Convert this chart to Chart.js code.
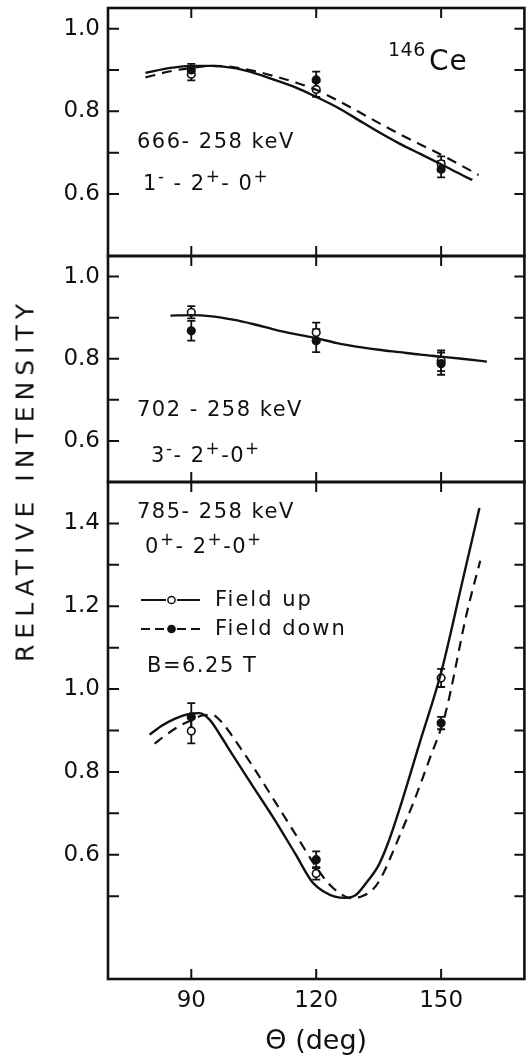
<!DOCTYPE html>
<html>
<head>
<meta charset="utf-8">
<script src="https://cdn.jsdelivr.net/npm/chart.js@4.4.1/dist/chart.umd.min.js"></script>
<style>
  body { margin: 0; background: #fff; }
  #wrap { position: relative; width: 530px; height: 1061px; overflow: hidden; background: #fff; }
  canvas { position: absolute; left: 0; }
  .txt { position: absolute; font-family: 'DejaVu Sans', sans-serif; color: #111; line-height: 1; white-space: nowrap; font-size: 21px; letter-spacing: 1.5px; }
  .up { position: relative; font-size: 0.8em; top: -0.45em; }
</style>
</head>
<body>
<div id="wrap">
  <canvas id="c1" width="530" height="262" style="top:0"></canvas>
  <canvas id="c2" width="530" height="238" style="top:250px"></canvas>
  <canvas id="c3" width="530" height="585" style="top:476px"></canvas>

  <div class="txt" style="left:25px; top:480px; font-size:25px; letter-spacing:6px; transform: translate(-50%,-50%) rotate(-90deg);">RELATIVE INTENSITY</div>

  <div class="txt" style="left:388px; top:40px; font-size:19px; letter-spacing:0.5px;">146</div>
  <div class="txt" style="left:429px; top:47px; font-size:28px; letter-spacing:1px;">Ce</div>

  <div class="txt" style="left:137px; top:131px;">666- 258 keV</div>
  <div class="txt" style="left:143px; top:173px;">1<span class="up">-</span> - 2<span class="up">+</span>- 0<span class="up">+</span></div>

  <div class="txt" style="left:137px; top:399px;">702 - 258 keV</div>
  <div class="txt" style="left:151px; top:445px;">3<span class="up">-</span>- 2<span class="up">+</span>-0<span class="up">+</span></div>

  <div class="txt" style="left:137px; top:501px;">785- 258 keV</div>
  <div class="txt" style="left:145px; top:536px;">0<span class="up">+</span>- 2<span class="up">+</span>-0<span class="up">+</span></div>
  <div class="txt" style="left:147px; top:655px;">B=6.25 T</div>
</div>

<script>
// axis settings
const X_MIN = 70, X_MAX = 170;
const xTicks = [90, 120, 150];
const xTitle = 'Θ (deg)';

// measured angles
const angles = [90, 120, 150];

// panel 1: 666-258 keV, 1- - 2+ - 0+
const p1YTicks = [0.6, 0.7, 0.8, 0.9, 1.0];
const p1YLabels = [0.6, 0.8, 1.0];
const p1UpVals = [0.890, 0.853, 0.673];
const p1UpErr = [0.015, 0.018, 0.018];
const p1DownVals = [0.900, 0.876, 0.660];
const p1DownErr = [0.015, 0.020, 0.020];
const p1SolidX = [79, 85, 90, 95, 100, 105, 110, 115, 120, 125, 130, 135, 140, 145, 150, 155, 157.5];
const p1SolidY = [0.893, 0.905, 0.910, 0.910, 0.905, 0.893, 0.876, 0.858, 0.835, 0.810, 0.780, 0.750, 0.722, 0.697, 0.672, 0.646, 0.634];
const p1DashX = [79, 85, 90, 95, 100, 105, 110, 115, 120, 125, 130, 135, 140, 145, 150, 155, 159];
const p1DashY = [0.882, 0.897, 0.905, 0.910, 0.907, 0.898, 0.885, 0.870, 0.852, 0.827, 0.800, 0.772, 0.745, 0.720, 0.695, 0.668, 0.646];

// panel 2: 702-258 keV, 3- - 2+ - 0+
const p2YTicks = [0.6, 0.7, 0.8, 0.9, 1.0];
const p2YLabels = [0.6, 0.8, 1.0];
const p2UpVals = [0.913, 0.864, 0.795];
const p2UpErr = [0.015, 0.024, 0.025];
const p2DownVals = [0.868, 0.844, 0.788];
const p2DownErr = [0.024, 0.028, 0.027];
const p2SolidX = [85, 90, 95, 100, 105, 110, 115, 120, 125, 130, 135, 140, 145, 150, 155, 161];
const p2SolidY = [0.905, 0.906, 0.903, 0.895, 0.884, 0.871, 0.860, 0.850, 0.838, 0.829, 0.822, 0.816, 0.810, 0.805, 0.800, 0.793];

// panel 3: 785-258 keV, 0+ - 2+ - 0+
const p3YTicks = [0.5, 0.6, 0.7, 0.8, 0.9, 1.0, 1.1, 1.2, 1.3, 1.4];
const p3YLabels = [0.6, 0.8, 1.0, 1.2, 1.4];
const p3UpVals = [0.899, 0.555, 1.027];
const p3UpErr = [0.030, 0.015, 0.022];
const p3DownVals = [0.933, 0.588, 0.918];
const p3DownErr = [0.033, 0.020, 0.015];
const p3SolidX = [80, 83, 86, 89, 92, 94.5, 97, 100, 105, 110, 115, 119, 122, 124.5, 127, 129.5, 132, 135, 137.5, 140, 145, 150, 155, 159.2];
const p3SolidY = [0.890, 0.912, 0.928, 0.939, 0.942, 0.925, 0.888, 0.840, 0.762, 0.685, 0.602, 0.535, 0.510, 0.499, 0.496, 0.503, 0.532, 0.575, 0.635, 0.710, 0.875, 1.040, 1.255, 1.437];
const p3DashX = [81.2, 84, 87, 90, 93, 95, 97.5, 100, 105, 110, 115, 120, 123, 125.5, 128.4, 131, 133.5, 135.5, 140, 143.5, 147, 151, 156.2, 159.4];
const p3DashY = [0.868, 0.890, 0.910, 0.925, 0.937, 0.938, 0.918, 0.884, 0.810, 0.730, 0.650, 0.570, 0.530, 0.508, 0.495, 0.500, 0.515, 0.543, 0.645, 0.730, 0.825, 0.940, 1.185, 1.310];

Chart.defaults.font.family = "'DejaVu Sans', sans-serif";
Chart.defaults.color = '#111';

const INK = '#111';

function pts(xs, ys) {
    return xs.map((x, i) => ({ x: x, y: ys[i] }));
}

function curve(xs, ys, dashed) {
    return {
        data: pts(xs, ys),
        borderColor: INK,
        borderWidth: dashed ? 2.2 : 2.4,
        borderDash: dashed ? [10, 7] : [],
        pointRadius: 0,
        cubicInterpolationMode: 'monotone',
        fill: false
    };
}

function marks(vals, errs, open) {
    return {
        data: pts(angles, vals),
        errs: errs,
        showLine: false,
        pointRadius: 3.8,
        pointBackgroundColor: open ? '#fff' : INK,
        pointBorderColor: INK,
        pointBorderWidth: 1.6
    };
}

// error bars under the markers
const errorBarPlugin = {
    id: 'errorBars',
    beforeDatasetsDraw(chart) {
        const { ctx, scales: { x, y } } = chart;
        ctx.save();
        ctx.strokeStyle = INK;
        ctx.lineWidth = 1.8;
        chart.data.datasets.forEach(ds => {
            if (!ds.errs) return;
            ds.data.forEach((p, i) => {
                const px = x.getPixelForValue(p.x);
                const top = y.getPixelForValue(p.y + ds.errs[i]);
                const bot = y.getPixelForValue(p.y - ds.errs[i]);
                ctx.beginPath();
                ctx.moveTo(px, top); ctx.lineTo(px, bot);
                ctx.moveTo(px - 4, top); ctx.lineTo(px + 4, top);
                ctx.moveTo(px - 4, bot); ctx.lineTo(px + 4, bot);
                ctx.stroke();
            });
        });
        ctx.restore();
    }
};

// box around each panel with ticks pointing inwards
const framePlugin = {
    id: 'frame',
    afterDatasetsDraw(chart) {
        const { ctx, chartArea: a, scales: { x, y } } = chart;
        ctx.save();
        ctx.strokeStyle = INK;
        ctx.lineWidth = 2.6;
        ctx.strokeRect(a.left, a.top, a.right - a.left, a.bottom - a.top);
        ctx.lineWidth = 2;
        ctx.beginPath();
        y.ticks.forEach(t => {
            const py = y.getPixelForValue(t.value);
            ctx.moveTo(a.left, py); ctx.lineTo(a.left + 11, py);
            ctx.moveTo(a.right, py); ctx.lineTo(a.right - 10, py);
        });
        x.ticks.forEach(t => {
            const px = x.getPixelForValue(t.value);
            ctx.moveTo(px, a.top); ctx.lineTo(px, a.top + 10);
            ctx.moveTo(px, a.bottom); ctx.lineTo(px, a.bottom - 10);
        });
        ctx.stroke();
        ctx.restore();
    }
};

// "—o— Field up / --•-- Field down" key in the bottom panel
const legendPlugin = {
    id: 'fieldLegend',
    afterDatasetsDraw(chart) {
        const { ctx, chartArea: a } = chart;
        const rows = [
            { text: 'Field up', dash: [], fill: '#fff' },
            { text: 'Field down', dash: [9, 5], fill: INK }
        ];
        rows.forEach((r, i) => {
            const yy = a.top + 118 + i * 29;
            const x0 = a.left + 33;
            ctx.save();
            ctx.strokeStyle = INK;
            ctx.lineWidth = 1.8;
            ctx.setLineDash(r.dash);
            ctx.beginPath();
            ctx.moveTo(x0, yy); ctx.lineTo(x0 + 25, yy);
            ctx.moveTo(x0 + 36, yy); ctx.lineTo(x0 + 59, yy);
            ctx.stroke();
            ctx.setLineDash([]);
            ctx.beginPath();
            ctx.arc(x0 + 30.5, yy, 3.6, 0, Math.PI * 2);
            ctx.fillStyle = r.fill;
            ctx.fill();
            ctx.lineWidth = 1.5;
            ctx.stroke();
            ctx.fillStyle = INK;
            ctx.font = "21px 'DejaVu Sans'";
            ctx.letterSpacing = '2px';
            ctx.textBaseline = 'middle';
            ctx.fillText(r.text, x0 + 74, yy + 1);
            ctx.restore();
        });
    }
};

function labelFor(v, list) {
    return list.some(l => Math.abs(l - v) < 1e-6) ? v.toFixed(1) : '';
}

// keep the axes from pushing the plot area in for label overhang
function noPad(s) {
    s.paddingTop = 0;
    s.paddingBottom = 0;
    s.paddingLeft = 0;
    s.paddingRight = 0;
}

function makePanel(id, o) {
    const plugins = [errorBarPlugin, framePlugin];
    if (o.legend) plugins.push(legendPlugin);
    return new Chart(document.getElementById(id), {
        type: 'line',
        data: { datasets: o.datasets },
        options: {
            responsive: false,
            animation: false,
            devicePixelRatio: 1,
            layout: { padding: { top: o.padTop, bottom: o.padBottom, left: 0, right: 2 } },
            plugins: { legend: { display: false }, tooltip: { enabled: false } },
            scales: {
                x: {
                    type: 'linear', min: X_MIN, max: X_MAX,
                    grid: { display: false, drawTicks: false },
                    border: { display: false },
                    afterBuildTicks: s => { s.ticks = xTicks.map(v => ({ value: v })); },
                    ticks: { display: o.showX, padding: 8, font: { size: 23 }, color: INK, callback: v => String(v) },
                    title: { display: o.showX, text: xTitle, font: { size: 27 }, color: INK, padding: { top: 0, bottom: 3 } },
                    afterFit: s => { s.height = o.xHeight; noPad(s); }
                },
                y: {
                    type: 'linear', min: o.yMin, max: o.yMax,
                    grid: { display: false, drawTicks: false },
                    border: { display: false },
                    afterBuildTicks: s => { s.ticks = o.yTicks.map(v => ({ value: v })); },
                    ticks: { padding: 8, font: { size: 23 }, color: INK, autoSkip: false, callback: v => labelFor(v, o.yLabels) },
                    afterFit: s => { s.width = 108; noPad(s); }
                }
            }
        },
        plugins: plugins
    });
}

makePanel('c1', {
    yMin: 0.45, yMax: 1.05, yTicks: p1YTicks, yLabels: p1YLabels,
    padTop: 8, padBottom: 6, xHeight: 0, showX: false,
    datasets: [
        curve(p1SolidX, p1SolidY, false),
        curve(p1DashX, p1DashY, true),
        marks(p1DownVals, p1DownErr, false),
        marks(p1UpVals, p1UpErr, true)
    ]
});

makePanel('c2', {
    yMin: 0.5, yMax: 1.05, yTicks: p2YTicks, yLabels: p2YLabels,
    padTop: 6, padBottom: 6, xHeight: 0, showX: false,
    datasets: [
        curve(p2SolidX, p2SolidY, false),
        marks(p2DownVals, p2DownErr, false),
        marks(p2UpVals, p2UpErr, true)
    ]
});

makePanel('c3', {
    yMin: 0.3, yMax: 1.5, yTicks: p3YTicks, yLabels: p3YLabels,
    padTop: 6, padBottom: 0, xHeight: 82, showX: true, legend: true,
    datasets: [
        curve(p3SolidX, p3SolidY, false),
        curve(p3DashX, p3DashY, true),
        marks(p3DownVals, p3DownErr, false),
        marks(p3UpVals, p3UpErr, true)
    ]
});
</script>
</body>
</html>
